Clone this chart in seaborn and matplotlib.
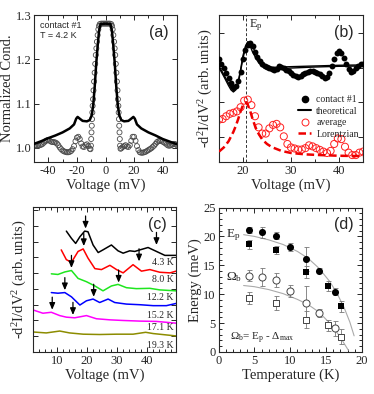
import matplotlib
matplotlib.use('Agg')
import matplotlib.pyplot as plt
from matplotlib.lines import Line2D
from matplotlib.ticker import MultipleLocator, NullFormatter, FormatStrFormatter
import seaborn as sns

# ---------------- panel (a): normalized conductance ----------------
a_line_v = [-50, -45, -40, -35, -30, -25, -22, -20.5, -19.5, -18, -16, -13, -11, -9.5, -8.5, -7.5, -6.5,
            -5.5, -4.5, -3.5, 0, 3.5, 4.5, 5.5, 6.5, 7.5, 8.5, 9.5, 11, 13, 16, 18, 19.5, 20.5, 22, 25,
            30, 35, 40, 45, 50]
a_line_g = [1.009, 1.015, 1.022, 1.028, 1.035, 1.044, 1.053, 1.066, 1.070, 1.066, 1.061, 1.060, 1.063,
            1.075, 1.100, 1.140, 1.190, 1.230, 1.265, 1.280, 1.281, 1.280, 1.265, 1.230, 1.190, 1.140,
            1.100, 1.075, 1.063, 1.060, 1.061, 1.066, 1.070, 1.066, 1.053, 1.044, 1.035, 1.028, 1.020,
            1.014, 1.008]

a_circ_v_left = [-50, -49, -48, -47, -46, -45, -44, -43, -42, -41, -40, -39, -38, -37, -36, -35, -34, -33,
                 -32, -31, -30, -29, -28, -27, -26, -25, -24, -23, -22, -21, -20, -19, -18, -17, -16, -15,
                 -14, -13, -12, -11, -10.5, -10.2, -10, -9.8, -9.6, -9.4, -9.2, -9, -8.7, -8.4, -8, -7.6,
                 -7.2, -6.8, -6.4, -6, -5.5, -5, -4.5, -4, -3, -2, -1]
a_circ_g_left = [1.004, 1.004, 1.005, 1.005, 1.006, 1.007, 1.009, 1.012, 1.015, 1.017, 1.018, 1.016, 1.014,
                 1.013, 1.013, 1.012, 1.010, 1.006, 1.001, 0.997, 0.994, 0.992, 0.991, 0.990, 0.990, 0.991,
                 0.993, 0.997, 1.004, 1.015, 1.023, 1.025, 1.020, 1.010, 1.003, 1.002, 1.006, 1.008, 1.004,
                 0.998, 0.997, 1.005, 1.020, 1.035, 1.050, 1.065, 1.080, 1.095, 1.110, 1.130, 1.150, 1.170,
                 1.190, 1.210, 1.225, 1.240, 1.255, 1.268, 1.276, 1.280, 1.281, 1.281, 1.281]
a_circ_v_right = [0, 1, 2, 3, 4, 4.5, 5, 5.5, 6, 6.4, 6.8, 7.2, 7.6, 8, 8.4, 8.7, 9, 9.2, 9.4, 9.6, 9.8, 10,
                  10.2, 10.5, 11, 12, 13, 14, 15, 16, 17, 18, 19, 20, 21, 22, 23, 24, 25, 26, 27, 28, 29, 30,
                  31, 32, 33, 34, 35, 36, 37, 38, 39, 40, 41, 42, 43, 44, 45, 46, 47, 48, 49, 50]
a_circ_g_right = [1.281, 1.281, 1.281, 1.281, 1.280, 1.276, 1.268, 1.255, 1.240, 1.225, 1.210, 1.190, 1.170,
                  1.150, 1.130, 1.110, 1.095, 1.080, 1.065, 1.050, 1.035, 1.020, 1.005, 0.998, 0.999, 1.002,
                  1.004, 1.006, 1.003, 1.002, 1.006, 1.016, 1.025, 1.025, 1.016, 1.004, 0.995, 0.990, 0.989,
                  0.989, 0.990, 0.991, 0.993, 0.995, 0.997, 0.999, 1.002, 1.005, 1.009, 1.013, 1.015, 1.016,
                  1.016, 1.014, 1.012, 1.010, 1.007, 1.005, 1.005, 1.006, 1.008, 1.009, 1.008, 1.006]

# ---------------- panel (b): second derivative, 15-45 mV ----------------
b_dot_v = [15.0, 15.5, 16.0, 16.5, 17.0, 17.5, 18.0, 18.5, 19.0, 19.5, 20.0, 20.5, 21.0, 21.5, 22.0, 22.5,
           23.0, 23.5, 24.0, 24.5, 25.0, 25.5, 26.0, 26.5, 27.0, 27.5, 28.0, 28.5, 29.0, 29.5, 30.0, 30.5,
           31.0, 31.5, 32.0, 32.5, 33.0, 33.5, 34.0, 34.5, 35.0, 35.5, 36.0, 36.5, 37.0, 37.5, 38.0, 38.5,
           39.0, 39.5, 40.0, 40.5, 41.0, 41.5, 42.0, 42.5, 43.0, 43.5, 44.0, 44.5, 45.0]
b_dot_y = [2.25, 2.12, 1.98, 1.84, 1.70, 1.57, 1.45, 1.47, 1.62, 1.88, 2.25, 2.50, 2.65, 2.70, 2.62, 2.45,
           2.30, 2.20, 2.12, 2.06, 2.02, 1.98, 1.95, 1.92, 1.96, 2.04, 2.03, 1.98, 1.94, 1.90, 1.85, 1.80,
           1.76, 1.74, 1.76, 1.82, 1.84, 1.87, 1.90, 1.90, 1.88, 1.86, 1.82, 1.76, 1.70, 1.74, 1.86, 2.04,
           2.25, 2.42, 2.48, 2.42, 2.28, 2.10, 1.96, 1.88, 1.90, 1.98, 2.06, 2.10, 2.12]
b_theo_v = [15, 16, 17, 17.5, 18, 18.5, 19, 19.5, 20, 20.5, 21, 21.5, 22, 23, 24, 25, 26, 28, 30, 35, 40, 45]
b_theo1_y = [2.05, 1.80, 1.55, 1.42, 1.33, 1.38, 1.60, 1.95, 2.35, 2.62, 2.75, 2.72, 2.60, 2.35, 2.15, 2.05,
             2.01, 2.02, 2.03, 2.05, 2.07, 2.08]
b_theo2_y = [2.00, 1.75, 1.48, 1.36, 1.30, 1.36, 1.55, 1.90, 2.28, 2.55, 2.68, 2.62, 2.45, 2.20, 2.03, 1.96,
             1.95, 1.97, 1.99, 2.02, 2.04, 2.05]
b_avg_v = [15.0, 15.75, 16.5, 17.25, 18.0, 18.75, 19.5, 20.25, 21.0, 21.75, 22.5, 23.25, 24.0, 24.75, 25.5,
           26.25, 27.0, 27.75, 28.5, 29.25, 30.0, 30.75, 31.5, 32.25, 33.0, 33.75, 34.5, 35.25, 36.0, 36.75,
           37.5, 38.25, 39.0, 39.75, 40.5, 41.25, 42.0, 42.75, 43.5, 44.25, 45.0]
b_avg_y = [0.50, 0.52, 0.60, 0.67, 0.70, 0.74, 0.86, 1.05, 1.08, 0.92, 0.60, 0.28, 0.10, 0.10, 0.25, 0.35,
           0.38, 0.28, 0.02, -0.20, -0.30, -0.33, -0.36, -0.36, -0.32, -0.24, -0.27, -0.32, -0.37, -0.42,
           -0.46, -0.40, -0.20, -0.04, -0.06, -0.28, -0.45, -0.52, -0.52, -0.45, -0.42]
b_lor_v = [15, 16, 17, 18, 18.5, 19, 19.5, 20, 20.3, 20.6, 21, 21.5, 22, 22.5, 23, 24, 25, 26, 28, 30, 33, 36,
           40, 45]
b_lor_y = [-0.42, -0.30, -0.12, 0.15, 0.32, 0.52, 0.74, 0.92, 0.98, 1.00, 0.93, 0.75, 0.52, 0.32, 0.15, -0.07,
           -0.20, -0.29, -0.40, -0.46, -0.50, -0.52, -0.54, -0.55]
b_ep = 20.6

# ---------------- panel (c): temperature series (offset curves) ----------------
c_temps = ['4.3 K', '8.0 K', '12.2 K', '15.2 K', '17.1 K', '19.3 K']
c_colors = ['black', '#ff0000', '#1ee61e', '#0000ff', '#ff00ff', '#8c8c00']
c_v = [
    [13.1, 14.8, 16.2, 17.6, 19.2, 20.3, 22.0, 23.7, 25.3, 28.1, 30.3, 32.0, 34.2, 35.9, 37.6, 40.3, 43.1,
     45.9, 49.6],
    [11.4, 13.1, 14.8, 17.0, 18.7, 20.3, 22.6, 24.8, 27.6, 29.8, 32.0, 35.3, 38.1, 40.9, 44.2, 47.6, 49.6],
    [8.1, 10.3, 12.6, 14.8, 17.0, 19.8, 22.6, 25.3, 28.1, 30.3, 33.1, 36.4, 40.9, 44.2, 49.6],
    [8.1, 10.3, 12.6, 14.8, 17.6, 19.8, 22.0, 24.2, 27.0, 29.2, 33.1, 37.6, 42.0, 46.4, 49.6],
    [2.0, 5.3, 8.1, 10.9, 13.1, 15.9, 19.8, 23.1, 27.6, 32.0, 37.6, 43.1, 49.6],
    [2.0, 6.4, 10.9, 14.2, 18.7, 24.2, 29.8, 35.3, 39.5, 42.0, 49.6],
]
c_y = [
    [7.67, 7.21, 6.89, 7.31, 7.67, 7.63, 6.79, 6.31, 6.48, 6.79, 6.42, 6.27, 6.42, 6.38, 6.48, 6.63, 6.38,
     6.13, 6.13],
    [6.48, 5.86, 5.69, 6.38, 6.54, 5.96, 5.29, 5.23, 5.50, 5.23, 5.02, 5.54, 5.13, 5.23, 5.06, 5.02, 5.13],
    [4.96, 4.92, 5.08, 5.17, 4.67, 4.46, 4.19, 3.88, 4.19, 4.29, 4.08, 4.02, 4.04, 3.94, 3.88],
    [3.77, 3.73, 3.77, 3.50, 2.98, 3.25, 3.36, 3.14, 3.36, 3.14, 3.04, 3.00, 2.94, 2.94, 3.08],
    [2.67, 2.46, 2.52, 2.31, 2.21, 2.17, 2.31, 2.11, 2.04, 2.00, 1.96, 1.94, 1.83],
    [1.27, 1.21, 1.33, 1.21, 1.13, 1.11, 1.13, 1.13, 1.25, 1.17, 1.02],
]
c_label_y = [5.71, 4.63, 3.44, 2.31, 1.56, 0.44]
c_arrow_v = [19.5, 43.1, 18.9, 37.3, 14.8, 30.5, 12.6, 22.2, 8.4, 15.3]
c_arrow_y = [7.83, 6.79, 6.72, 5.75, 5.33, 4.40, 3.92, 3.50, 2.68, 2.35]

# ---------------- panel (d): energies vs temperature ----------------
d_ep_circ_t = [4.2, 6.0, 8.0, 10.0, 12.2, 14.0, 16.2]
d_ep_circ_e = [21.1, 20.7, 20.1, 18.1, 16.1, 14.1, 10.4]
d_ep_circ_err = [0.5, 1.0, 0.6, 0.7, 2.0, 0.5, 0.6]
d_ep_sq_t = [4.3, 8.0, 12.2, 15.2, 17.1]
d_ep_sq_e = [18.6, 17.6, 13.8, 11.4, 7.9]
d_ep_sq_err = [0.8, 0.7, 1.0, 0.8, 1.0]
d_om_circ_t = [4.2, 6.0, 8.0, 10.0, 12.2, 14.0, 16.2]
d_om_circ_e = [13.2, 13.0, 12.5, 10.6, 8.5, 6.8, 4.1]
d_om_circ_err = [1.0, 1.6, 1.2, 1.0, 3.0, 0.7, 1.3]
d_om_sq_t = [4.3, 8.0, 12.2, 15.2, 17.1]
d_om_sq_e = [9.3, 8.5, 5.6, 4.6, 2.6]
d_om_sq_err = [1.0, 1.2, 1.5, 1.0, 1.3]
d_fit_up_t = [3.5, 5, 7, 9, 11, 12.5, 14, 15.5, 16.5, 17.5, 18.3, 18.9]
d_fit_up_e = [20.3, 20.0, 19.4, 18.6, 17.4, 16.2, 14.5, 12.2, 10.2, 7.7, 5.2, 2.8]
d_fit_lo_t = [3.5, 5, 7, 9, 11, 12.5, 14, 15.5, 16.5, 17.2, 17.7, 18.1]
d_fit_lo_e = [11.5, 11.3, 10.8, 10.1, 9.1, 8.2, 6.9, 5.0, 3.4, 2.1, 1.1, 0.3]

sns.set_style('ticks')
plt.rcParams['font.family'] = ['Liberation Serif', 'DejaVu Serif']
plt.rcParams['mathtext.fontset'] = 'custom'
plt.rcParams['mathtext.rm'] = 'Liberation Serif'
plt.rcParams['mathtext.it'] = 'Liberation Serif:italic'
plt.rcParams['mathtext.default'] = 'regular'
plt.rcParams['axes.unicode_minus'] = False
plt.rcParams['axes.linewidth'] = 0.8

W, H = 374, 394
fig = plt.figure(figsize=(W / 100, H / 100), dpi=100)


def px_axes(left, top, right, bottom):
    return fig.add_axes([left / W, 1 - bottom / H, (right - left) / W, (bottom - top) / H])


def style_ticks(ax):
    ax.tick_params(which='both', direction='in', top=True, right=True, width=0.7, labelsize=9, pad=2)
    ax.tick_params(which='major', length=3.5)
    ax.tick_params(which='minor', length=2)


def panel_letter(ax, s):
    ax.text(0.87, 0.88, s, transform=ax.transAxes, ha='center', va='center', fontsize=11.5,
            family='Liberation Sans')


lbl = dict(fontsize=10.5, labelpad=1)

# (a)
ax = px_axes(34, 15, 177, 162)
sns.scatterplot(x=a_circ_v_left, y=a_circ_g_left, ax=ax, marker='o', s=13, facecolor='none',
                edgecolor='#4a4a4a', linewidth=0.6, zorder=2)
sns.scatterplot(x=a_circ_v_right, y=a_circ_g_right, ax=ax, marker='o', s=13, facecolor='none',
                edgecolor='#4a4a4a', linewidth=0.6, zorder=2)
sns.lineplot(x=a_line_v, y=a_line_g, ax=ax, color='black', lw=1.8, sort=False, estimator=None, zorder=3)
ax.set_xlim(-50, 50)
ax.set_ylim(0.968, 1.3005)
ax.xaxis.set_major_locator(MultipleLocator(20))
ax.xaxis.set_minor_locator(MultipleLocator(10))
ax.yaxis.set_major_locator(MultipleLocator(0.1))
ax.yaxis.set_major_formatter(FormatStrFormatter('%.1f'))
style_ticks(ax)
ax.set_xlabel('Voltage (mV)', **lbl)
ax.set_ylabel('Normalized Cond.', **lbl)
ax.text(0.04, 0.93, 'contact #1', transform=ax.transAxes, fontsize=6.5, family='Liberation Sans', va='center')
ax.text(0.04, 0.86, 'T = 4.2 K', transform=ax.transAxes, fontsize=6.5, family='Liberation Sans', va='center')
panel_letter(ax, '(a)')

# (b)
ax = px_axes(219, 15, 363, 162)
ax.axvline(b_ep, color='#333333', lw=0.7, ls=(0, (3, 2)), zorder=1)
sns.scatterplot(x=b_avg_v, y=b_avg_y, ax=ax, marker='o', s=26, facecolor='none', edgecolor='#ff2020',
                linewidth=0.7, zorder=2)
sns.lineplot(x=b_lor_v, y=b_lor_y, ax=ax, color='#ee0000', lw=1.8, ls=(0, (3, 1.5)), sort=False,
             estimator=None, zorder=3)
sns.scatterplot(x=b_dot_v, y=b_dot_y, ax=ax, marker='o', s=18, color='black', edgecolor='black',
                linewidth=0, zorder=3)
sns.lineplot(x=b_theo_v, y=b_theo1_y, ax=ax, color='black', lw=1.0, sort=False, estimator=None, zorder=4)
sns.lineplot(x=b_theo_v, y=b_theo2_y, ax=ax, color='black', lw=1.0, sort=False, estimator=None, zorder=4)
ax.set_xlim(15, 45)
ax.set_ylim(-0.72, 3.52)
ax.xaxis.set_major_locator(MultipleLocator(10))
ax.xaxis.set_minor_locator(MultipleLocator(5))
ax.yaxis.set_major_locator(MultipleLocator(1))
ax.yaxis.set_major_formatter(NullFormatter())
style_ticks(ax)
ax.set_xlabel('Voltage (mV)', **lbl)
ax.set_ylabel(r'-d$^2$I/dV$^2$ (arb. units)', **lbl)
ax.text(b_ep + 0.6, 3.23, r'E$_\mathrm{p}$', fontsize=9, va='center')
handles = [
    Line2D([], [], ls='none', marker='o', ms=4.5, color='black'),
    Line2D([], [], color='black', lw=1.5),
    Line2D([], [], ls='none', marker='o', ms=5, mfc='none', mec='#ff2020', mew=0.7),
    Line2D([], [], color='#ee0000', lw=1.8, ls=(0, (3, 1.5))),
]
ax.legend(handles, ['contact #1', 'theoretical', 'average', 'Lorentzian'], loc='upper left',
          bbox_to_anchor=(0.5, 0.5), frameon=False, fontsize=7, handlelength=1.4, handletextpad=0.5,
          labelspacing=0.25, borderpad=0.2)
panel_letter(ax, '(b)')

# (c)
ax = px_axes(33, 207, 176, 352)
for v, y, col in zip(c_v, c_y, c_colors):
    sns.lineplot(x=v, y=y, ax=ax, color=col, lw=1.1, sort=False, estimator=None)
for t, ly in zip(c_temps, c_label_y):
    ax.text(0.985, ly, t, transform=ax.get_yaxis_transform(), ha='right', va='center', fontsize=7)
for av, ay in zip(c_arrow_v, c_arrow_y):
    ax.annotate('', xy=(av, ay), xytext=(av, ay + 0.8),
                arrowprops=dict(arrowstyle='-|>,head_length=0.4,head_width=0.17', color='black', lw=0.9,
                                shrinkA=0, shrinkB=0))
ax.set_xlim(2, 49.6)
ax.set_ylim(0, 9.2)
ax.xaxis.set_major_locator(MultipleLocator(10))
ax.xaxis.set_minor_locator(MultipleLocator(2))
ax.yaxis.set_major_locator(MultipleLocator(1))
ax.yaxis.set_major_formatter(NullFormatter())
style_ticks(ax)
ax.set_xlabel('Voltage (mV)', **lbl)
ax.set_ylabel(r'-d$^2$I/dV$^2$ (arb. units)', **lbl)
panel_letter(ax, '(c)')

# (d)
ax = px_axes(218.5, 207.5, 362, 352)
sns.lineplot(x=d_fit_up_t, y=d_fit_up_e, ax=ax, color='#aaaaaa', lw=0.8, sort=False, estimator=None)
sns.lineplot(x=d_fit_lo_t, y=d_fit_lo_e, ax=ax, color='#aaaaaa', lw=0.8, sort=False, estimator=None)
eb = dict(ls='none', ecolor='#777777', elinewidth=0.6, capsize=1.8, capthick=0.6, zorder=2)
ax.errorbar(d_ep_circ_t, d_ep_circ_e, yerr=d_ep_circ_err, **eb)
ax.errorbar(d_ep_sq_t, d_ep_sq_e, yerr=d_ep_sq_err, **eb)
ax.errorbar(d_om_circ_t, d_om_circ_e, yerr=d_om_circ_err, **eb)
ax.errorbar(d_om_sq_t, d_om_sq_e, yerr=d_om_sq_err, **eb)
sns.scatterplot(x=d_ep_circ_t, y=d_ep_circ_e, ax=ax, marker='o', s=26, color='black', linewidth=0, zorder=3)
sns.scatterplot(x=d_ep_sq_t, y=d_ep_sq_e, ax=ax, marker='s', s=22, color='black', linewidth=0, zorder=3)
sns.scatterplot(x=d_om_circ_t, y=d_om_circ_e, ax=ax, marker='o', s=26, facecolor='white', edgecolor='#444444',
                linewidth=0.7, zorder=3)
sns.scatterplot(x=d_om_sq_t, y=d_om_sq_e, ax=ax, marker='s', s=22, facecolor='white', edgecolor='#444444',
                linewidth=0.7, zorder=3)
ax.set_xlim(0, 20)
ax.set_ylim(0, 25)
ax.xaxis.set_major_locator(MultipleLocator(5))
ax.xaxis.set_minor_locator(MultipleLocator(1))
ax.yaxis.set_major_locator(MultipleLocator(5))
ax.yaxis.set_minor_locator(MultipleLocator(1))
style_ticks(ax)
ax.set_xlabel('Temperature (K)', **lbl)
ax.set_ylabel('Energy (meV)', **lbl)
ax.text(1.0, 20.3, r'E$_\mathrm{p}$', fontsize=9.5, va='center')
ax.text(1.0, 13.0, r'$\Omega_\mathrm{b}$', fontsize=9.5, va='center')
ax.text(1.6, 2.3, r'$\Omega_\mathrm{b}$= E$_\mathrm{p}$ - $\Delta_\mathrm{max}$', fontsize=8, va='center')
panel_letter(ax, '(d)')

fig.savefig('out.png', dpi=100)
